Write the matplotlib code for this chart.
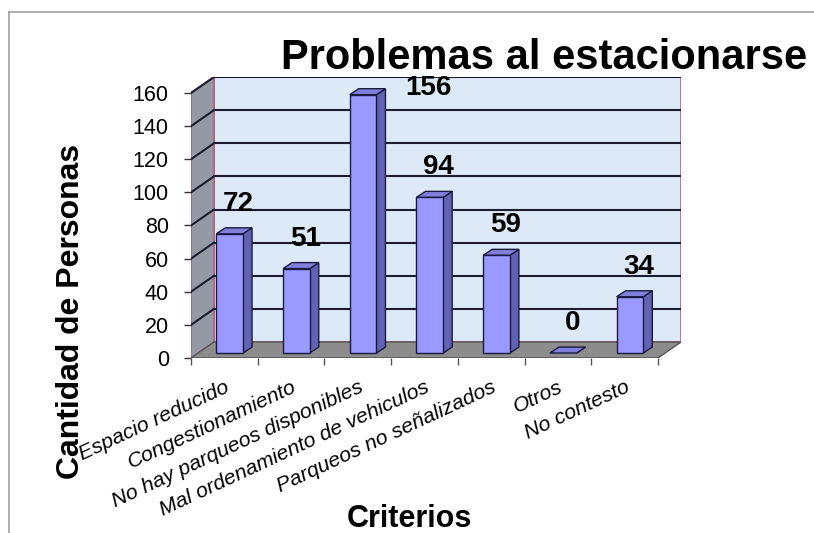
import matplotlib
matplotlib.use("Agg")
import matplotlib.pyplot as plt
from matplotlib.patches import Polygon
from matplotlib.lines import Line2D
import numpy as np

plt.rcParams['font.family'] = ['Liberation Sans', 'DejaVu Sans']

# data
categories = ['Espacio reducido', 'Congestionamiento', 'No hay parqueos disponibles',
              'Mal ordenamiento de vehiculos', 'Parqueos no señalizados', 'Otros', 'No contesto']
values = [72, 51, 156, 94, 59, 0, 34]
yticks = [0, 20, 40, 60, 80, 100, 120, 140, 160]
title = 'Problemas al estacionarse'
xlabel = 'Criterios'
ylabel = 'Cantidad de Personas'

W, H = 814, 533
fig = plt.figure(figsize=(W / 100, H / 100), dpi=100)

# axes box = front floor edge (left/bottom) to back wall (right/top)
left, right, bottom, top = 191, 681, 358, 77
ax = fig.add_axes([left / W, (H - bottom) / H, (right - left) / W, (bottom - top) / H])

n = len(categories)
ymax = yticks[-1]
DX = 0.345   # depth offset of the back wall, in category units
DY = 9.66    # depth offset of the back wall, in value units
ax.set_xlim(-0.5, n - 0.5 + DX)
ax.set_ylim(0, ymax + DY)

wall_edge = '#b8607e'
grid_col = '#1c1c30'

# back wall
ax.add_patch(Polygon([(-0.5 + DX, DY), (n - 0.5 + DX, DY), (n - 0.5 + DX, ymax + DY),
                      (-0.5 + DX, ymax + DY)], closed=True, facecolor='#dde9f7',
                     edgecolor=wall_edge, lw=1.2, zorder=1))
# side wall
ax.add_patch(Polygon([(-0.5, 0), (-0.5 + DX, DY), (-0.5 + DX, ymax + DY), (-0.5, ymax)],
                     closed=True, facecolor='#939aa5', edgecolor=wall_edge, lw=1.2, zorder=1))
# floor
ax.add_patch(Polygon([(-0.5, 0), (n - 0.5, 0), (n - 0.5 + DX, DY), (-0.5 + DX, DY)],
                     closed=True, facecolor='#8c8c8c', edgecolor='#555555', lw=1, zorder=1))

# gridlines on back and side walls
for v in yticks[1:]:
    ax.plot([-0.5 + DX, n - 0.5 + DX], [v + DY, v + DY], color=grid_col, lw=1.5, zorder=2)
    ax.plot([-0.5, -0.5 + DX], [v, v + DY], color=grid_col, lw=1.5, zorder=2)

# 3d bars
BW = 0.40
BX = 0.08
BY = 3.0
DDX = 0.135
DDY = 3.6
for i, v in enumerate(values):
    x0 = i - BW / 2 + BX
    x1 = x0 + BW
    y0 = BY
    y1 = BY + v
    ax.add_patch(Polygon([(x1, y0), (x1 + DDX, y0 + DDY), (x1 + DDX, y1 + DDY), (x1, y1)],
                         closed=True, facecolor='#6262b4', edgecolor='#1a1a40', lw=1, zorder=3))
    ax.add_patch(Polygon([(x0, y1), (x1, y1), (x1 + DDX, y1 + DDY), (x0 + DDX, y1 + DDY)],
                         closed=True, facecolor='#8080dc', edgecolor='#1a1a40', lw=1, zorder=3))
    if v > 0:
        ax.add_patch(Polygon([(x0, y0), (x1, y0), (x1, y1), (x0, y1)],
                             closed=True, facecolor='#9999ff', edgecolor='#1a1a40', lw=1, zorder=4))
    off = (47, 5) if v == max(values) else (6.5, 21.5)
    ax.annotate(str(v), xy=((x0 + x1) / 2, y1), xytext=off, textcoords='offset points',
                ha='center', va='center', fontsize=20, fontweight='bold', zorder=5)

# axes ticks
for s in ax.spines.values():
    s.set_visible(False)
ax.set_yticks(yticks)
ax.set_yticklabels([str(t) for t in yticks], fontsize=15.5)
ax.tick_params(axis='y', direction='out', length=5, width=1, color='#333333', pad=11)
ax.set_xticks(np.arange(n))
ax.set_xticklabels(categories, fontsize=15.3, style='italic', rotation=25,
                   ha='right', va='top', rotation_mode='anchor')
ax.set_xticks(np.arange(n + 1) - 0.5, minor=True)
ax.tick_params(axis='x', which='major', length=0, pad=14)
ax.tick_params(axis='x', which='minor', direction='out', length=5, width=1, color='#555555')
ax.plot([-0.5, n - 0.5], [0, 0], color='#555555', lw=1, zorder=2)

# titles
fig.text(544 / W, 1 - 69 / H, title, ha='center', va='baseline', fontsize=30, fontweight='bold')
fig.text(409 / W, 1 - 527 / H, xlabel, ha='center', va='baseline', fontsize=22, fontweight='bold')
fig.text(71 / W, 1 - 311 / H, ylabel, ha='center', va='center', rotation=90,
         fontsize=23, fontweight='bold')

# outer frame (top and left only)
fig.add_artist(Line2D([9 / W, 9 / W], [0, 1 - 12 / H], color='#a0a0a0', lw=1.2))
fig.add_artist(Line2D([9 / W, 1], [1 - 12 / H, 1 - 12 / H], color='#a0a0a0', lw=1.2))

fig.savefig('out.png', dpi=100)
